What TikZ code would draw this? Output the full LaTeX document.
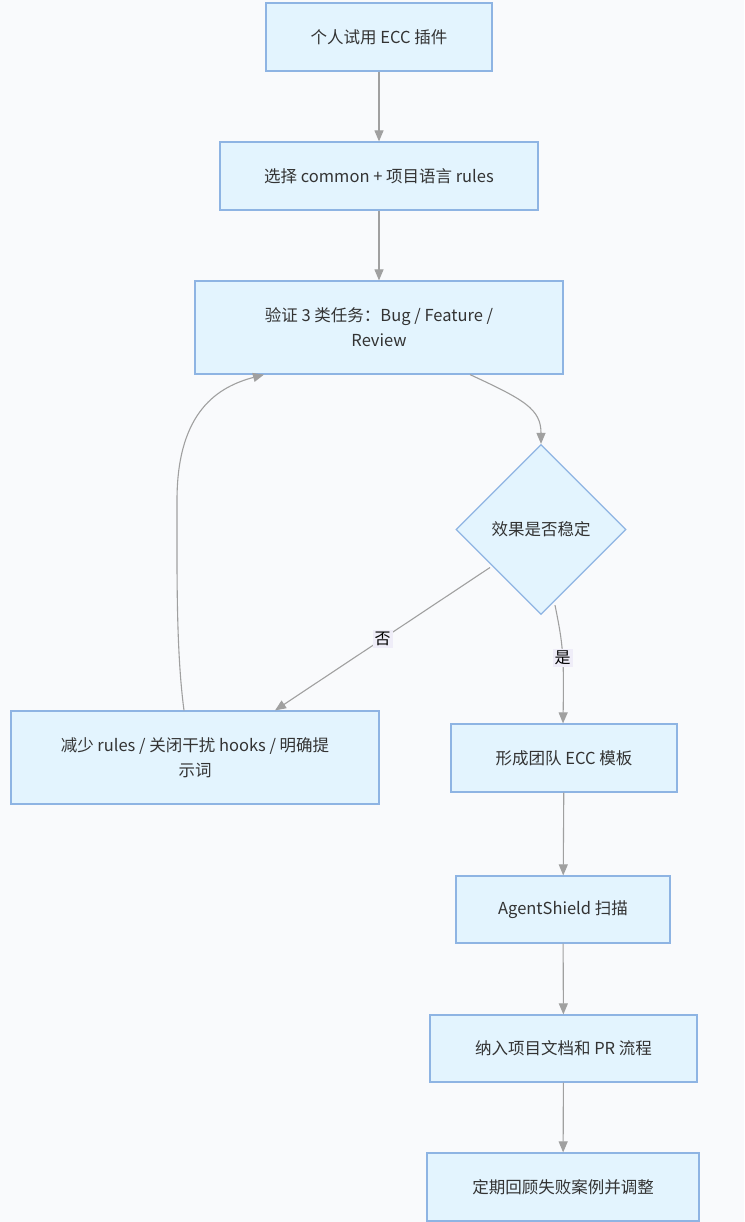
\documentclass[tikz,border=0pt]{standalone}
\usepackage{fontspec}
\setmainfont{Noto Sans CJK SC}
\usetikzlibrary{arrows.meta,shapes.geometric,calc}
\definecolor{bgc}{HTML}{F9FAFC}
\definecolor{boxfill}{HTML}{E3F4FE}
\definecolor{boxline}{HTML}{8EB4E3}
\definecolor{edgec}{HTML}{A0A0A0}
\definecolor{txt}{HTML}{333333}
\definecolor{lblbg}{HTML}{EFEDF8}
\tikzset{
  stepbox/.style={draw=boxline, fill=boxfill, line width=1.2pt, rectangle, inner sep=0pt, align=center, text=txt, font=\fontsize{16.5}{25}\selectfont},
  decbox/.style={draw=boxline, fill=boxfill, line width=1.2pt, diamond, inner sep=0pt, minimum width=170pt, minimum height=170pt, text=txt, font=\fontsize{16.5}{25}\selectfont},
  conn/.style={draw=edgec, line width=1.1pt, -{Triangle[length=11pt,width=9pt,fill=edgec]}},
  lbl/.style={fill=lblbg, inner sep=2pt, text=black, font=\fontsize{16}{18}\selectfont}
}
\begin{document}
\begin{tikzpicture}[x=1pt,y=-1pt]
\fill[bgc] (0,0) rectangle (744,1222);
\useasboundingbox (0,0) rectangle (744,1222);
\node[stepbox, minimum width=226pt, minimum height=68pt] (n1) at (379,37) {个人试用 ECC 插件};
\node[stepbox, minimum width=318pt, minimum height=68pt] (n2) at (379,176) {选择 common + 项目语言 rules};
\node[stepbox, minimum width=368pt, minimum height=93pt] (n3) at (379,327.5) {验证 3 类任务：Bug / Feature /\\Review};
\node[decbox] (d) at (541,529.5) {效果是否稳定};
\node[stepbox, minimum width=368pt, minimum height=93pt] (n5) at (195,757.5) {减少 rules / 关闭干扰 hooks / 明确提\\示词};
\node[stepbox, minimum width=226pt, minimum height=68pt] (n6) at (564,758) {形成团队 ECC 模板};
\node[stepbox, minimum width=214pt, minimum height=67pt] (n7) at (563,909.5) {AgentShield 扫描};
\node[stepbox, minimum width=267pt, minimum height=67pt] (n8) at (563.5,1048.5) {纳入项目文档和 PR 流程};
\node[stepbox, minimum width=272pt, minimum height=68pt] (n9) at (563,1187) {定期回顾失败案例并调整};

\draw[conn] (n1) -- (n2);
\draw[conn] (n2) -- (n3);
\draw[conn] ($(n3.south)+(91,0)$) .. controls ($(n3.south)+(145,25)$) and ($(d.north)+(0,-35)$) .. (d.north);
\draw[conn] ($(d.center)+(-51,38)$) -- node[lbl, pos=0.5] {否} ($(n5.north)+(80,0)$);
\draw[conn] ($(d.south)+(14,-10)$) .. controls ($(d.south)+(22,30)$) and ($(n6.north)+(0,-70)$) .. node[lbl, pos=0.55] {是} ($(n6.north)+(-1,0)$);
\draw[conn] ($(n5.north)+(-11,0)$) .. controls ($(n5.north)+(-19,-60)$) and ($(n5.north)+(-18,-140)$) .. ($(n5.north)+(-18,-210)$) .. controls ($(n5.north)+(-18,-300)$) and ($(n3.south)+(-160,12)$) .. ($(n3.south)+(-115,0)$);
\draw[conn] (n6) -- (n7);
\draw[conn] (n7) -- (n8);
\draw[conn] (n8) -- (n9);
\end{tikzpicture}
\end{document}
